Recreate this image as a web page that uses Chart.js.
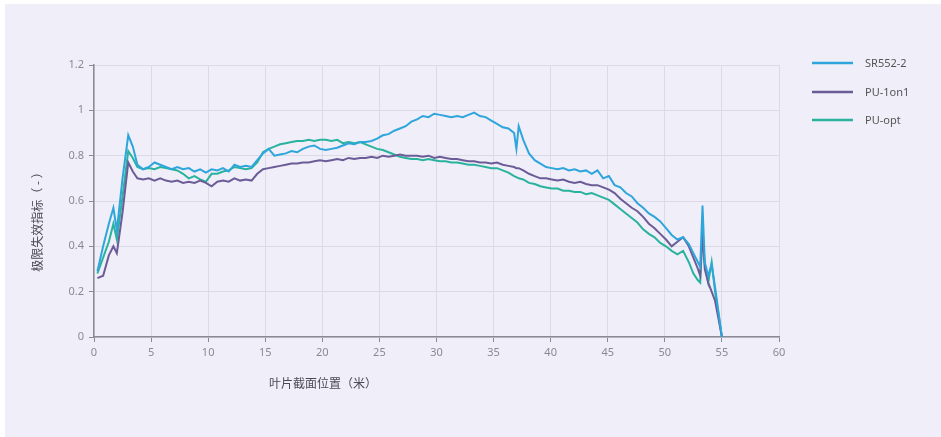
<!DOCTYPE html>
<html>
<head>
<meta charset="utf-8">
<script src="https://cdn.jsdelivr.net/npm/chart.js@4.4.1/dist/chart.umd.min.js"></script>
<style>
  html, body { margin: 0; padding: 0; background: #ffffff; }
  #wrap { position: absolute; left: 5px; top: 4px; width: 936px; height: 433px; background: #f0eef8; }
  canvas { display: block; }
</style>
</head>
<body>
<div id="wrap"><canvas id="c" width="936" height="433"></canvas></div>
<script>
// Blade section position along the span (m)
const sectionPos = [
  0.3, 0.8, 1.3, 1.7, 2.0, 2.5, 3.0, 3.4, 3.8, 4.3, 4.8, 5.3, 5.8, 6.3, 6.8, 7.3, 7.8, 8.3, 8.8, 9.3,
  9.8, 10.3, 10.8, 11.3, 11.8, 12.3, 12.8, 13.3, 13.8, 14.3, 14.8, 15.3, 15.8, 16.3, 16.8, 17.3, 17.8, 18.3, 18.8, 19.3,
  19.8, 20.3, 20.8, 21.3, 21.8, 22.3, 22.8, 23.3, 23.8, 24.3, 24.8, 25.3, 25.8, 26.3, 26.8, 27.3, 27.8, 28.3, 28.8, 29.3,
  29.8, 30.3, 30.8, 31.3, 31.8, 32.3, 32.8, 33.3, 33.8, 34.3, 34.8, 35.3, 35.8, 36.3, 36.8, 37.0, 37.2, 37.6, 38.1, 38.6,
  39.1, 39.6, 40.1, 40.6, 41.1, 41.6, 42.1, 42.6, 43.1, 43.6, 44.1, 44.6, 45.1, 45.6, 46.1, 46.6, 47.1, 47.6, 48.1, 48.6,
  49.1, 49.6, 50.1, 50.6, 51.1, 51.6, 52.1, 52.5, 52.9, 53.1, 53.3, 53.5, 53.8, 54.1, 54.4, 54.7, 55.0
];

const sr552 = [
  0.29, 0.40, 0.50, 0.57, 0.47, 0.70, 0.89, 0.84, 0.76, 0.74, 0.75, 0.77, 0.76, 0.75, 0.74, 0.75, 0.74, 0.745, 0.73, 0.74,
  0.725, 0.74, 0.735, 0.745, 0.73, 0.76, 0.75, 0.755, 0.75, 0.78, 0.81, 0.83, 0.80, 0.805, 0.81, 0.82, 0.815, 0.83, 0.84, 0.845,
  0.83, 0.825, 0.83, 0.835, 0.845, 0.855, 0.85, 0.86, 0.86, 0.865, 0.875, 0.89, 0.895, 0.91, 0.92, 0.93, 0.95, 0.96, 0.975, 0.97,
  0.985, 0.98, 0.975, 0.97, 0.975, 0.97, 0.98, 0.99, 0.975, 0.97, 0.955, 0.94, 0.925, 0.92, 0.90, 0.83, 0.93, 0.87, 0.81, 0.78,
  0.765, 0.75, 0.745, 0.74, 0.745, 0.735, 0.74, 0.73, 0.735, 0.72, 0.735, 0.70, 0.71, 0.67, 0.66, 0.635, 0.62, 0.59, 0.57, 0.545,
  0.53, 0.51, 0.48, 0.45, 0.43, 0.44, 0.41, 0.37, 0.33, 0.31, 0.58, 0.33, 0.27, 0.32, 0.22, 0.11, 0.0
];

const pu1on1 = [
  0.26, 0.27, 0.36, 0.40, 0.37, 0.55, 0.77, 0.73, 0.70, 0.695, 0.70, 0.69, 0.70, 0.69, 0.685, 0.69, 0.68, 0.685, 0.68, 0.69,
  0.68, 0.665, 0.685, 0.69, 0.685, 0.70, 0.69, 0.695, 0.69, 0.72, 0.74, 0.745, 0.75, 0.755, 0.76, 0.765, 0.765, 0.77, 0.77, 0.775,
  0.78, 0.775, 0.78, 0.785, 0.78, 0.79, 0.785, 0.79, 0.79, 0.795, 0.79, 0.80, 0.795, 0.80, 0.805, 0.80, 0.80, 0.80, 0.795, 0.80,
  0.79, 0.795, 0.79, 0.785, 0.785, 0.78, 0.775, 0.775, 0.77, 0.77, 0.765, 0.77, 0.76, 0.755, 0.75, 0.745, 0.745, 0.735, 0.72, 0.71,
  0.70, 0.70, 0.695, 0.69, 0.695, 0.685, 0.68, 0.685, 0.675, 0.67, 0.67, 0.66, 0.65, 0.635, 0.61, 0.59, 0.57, 0.555, 0.53, 0.50,
  0.48, 0.455, 0.43, 0.40, 0.42, 0.44, 0.40, 0.35, 0.30, 0.27, 0.46, 0.30, 0.24, 0.20, 0.16, 0.08, 0.0
];

const puOpt = [
  0.28, 0.35, 0.42, 0.50, 0.43, 0.62, 0.82, 0.79, 0.75, 0.74, 0.745, 0.74, 0.75, 0.745, 0.74, 0.735, 0.72, 0.70, 0.71, 0.695,
  0.685, 0.72, 0.72, 0.73, 0.735, 0.75, 0.745, 0.74, 0.745, 0.77, 0.815, 0.83, 0.84, 0.85, 0.855, 0.86, 0.865, 0.865, 0.87, 0.865,
  0.87, 0.87, 0.865, 0.87, 0.855, 0.86, 0.855, 0.86, 0.85, 0.84, 0.83, 0.825, 0.815, 0.805, 0.795, 0.79, 0.785, 0.785, 0.78, 0.785,
  0.78, 0.775, 0.775, 0.77, 0.77, 0.765, 0.76, 0.76, 0.755, 0.75, 0.745, 0.745, 0.735, 0.725, 0.71, 0.705, 0.70, 0.695, 0.68, 0.675,
  0.665, 0.66, 0.655, 0.655, 0.645, 0.645, 0.64, 0.64, 0.63, 0.635, 0.625, 0.615, 0.605, 0.585, 0.565, 0.545, 0.525, 0.505, 0.475, 0.455,
  0.44, 0.415, 0.40, 0.38, 0.365, 0.38, 0.33, 0.28, 0.25, 0.24, 0.47, 0.32, 0.24, 0.33, 0.20, 0.10, 0.0
];

const seriesNames = ['SR552-2', 'PU-1on1', 'PU-opt'];
const seriesColors = ['#2ea6dc', '#6b5c98', '#29b39e'];
const xTickLabels = ['0', '5', '10', '15', '20', '25', '30', '35', '40', '45', '50', '55', '60'];
const yTickLabels = ['0', '0.2', '0.4', '0.6', '0.8', '1', '1.2'];
const xTitle = '叶片截面位置（米）';
const yTitle = '极限失效指标（ - ）';

const seriesValues = [sr552, pu1on1, puOpt];
const datasets = seriesValues.map((vals, i) => ({
  label: seriesNames[i],
  data: sectionPos.map((x, j) => ({ x: x, y: vals[j] })),
  borderColor: seriesColors[i],
  backgroundColor: seriesColors[i],
  borderWidth: 2,
  pointRadius: 0,
  tension: 0,
  fill: false
}));

const latinFont = '"Noto Sans", "Noto Sans CJK SC", sans-serif';
const cjkFont = '"Noto Sans CJK SC", "Noto Sans", sans-serif';

// Axis titles and the side legend are painted after the chart itself
const decorations = {
  id: 'decorations',
  afterDraw(chart) {
    const ctx = chart.ctx;
    ctx.save();
    ctx.fillStyle = '#4a4a52';
    ctx.font = '12px ' + cjkFont;
    ctx.textAlign = 'center';
    ctx.textBaseline = 'middle';
    ctx.fillText(xTitle, 318, 379);

    ctx.save();
    ctx.translate(32, 215);
    ctx.rotate(-Math.PI / 2);
    ctx.fillText(yTitle, 0, 0);
    ctx.restore();

    // legend
    const rowY = [59, 88, 116];
    chart.data.datasets.forEach((ds, i) => {
      ctx.strokeStyle = ds.borderColor;
      ctx.lineWidth = 2.5;
      ctx.beginPath();
      ctx.moveTo(807, rowY[i]);
      ctx.lineTo(848, rowY[i]);
      ctx.stroke();
      ctx.fillStyle = '#555555';
      ctx.font = '11px ' + latinFont;
      ctx.textAlign = 'left';
      ctx.fillText(ds.label, 860, rowY[i] + 1);
    });
    ctx.restore();
  }
};

new Chart(document.getElementById('c'), {
  type: 'line',
  data: { datasets: datasets },
  plugins: [decorations],
  options: {
    responsive: false,
    animation: false,
    layout: { padding: { left: 0, top: 61, right: 162, bottom: 0 } },
    plugins: {
      legend: { display: false },
      tooltip: { enabled: false }
    },
    scales: {
      x: {
        type: 'linear',
        min: 0,
        max: 60,
        afterFit(scale) { scale.height = 100; },
        ticks: {
          stepSize: 5,
          color: '#8a8a95',
          font: { size: 11, family: latinFont },
          padding: 4,
          maxRotation: 0,
          callback: (v) => xTickLabels[Math.round(v / 5)]
        },
        grid: { color: '#dcdae6', lineWidth: 1, tickLength: 5, tickColor: '#8a8a95' },
        border: { color: '#8a8a95', width: 1.5 }
      },
      y: {
        type: 'linear',
        min: 0,
        max: 1.2,
        afterFit(scale) { scale.width = 89; },
        ticks: {
          stepSize: 0.2,
          color: '#8a8a95',
          font: { size: 11, family: latinFont },
          padding: 5,
          callback: (v) => yTickLabels[Math.round(v / 0.2)]
        },
        grid: { color: '#dcdae6', lineWidth: 1, tickLength: 5, tickColor: '#8a8a95' },
        border: { color: '#8a8a95', width: 1.5 }
      }
    }
  }
});
</script>
</body>
</html>
